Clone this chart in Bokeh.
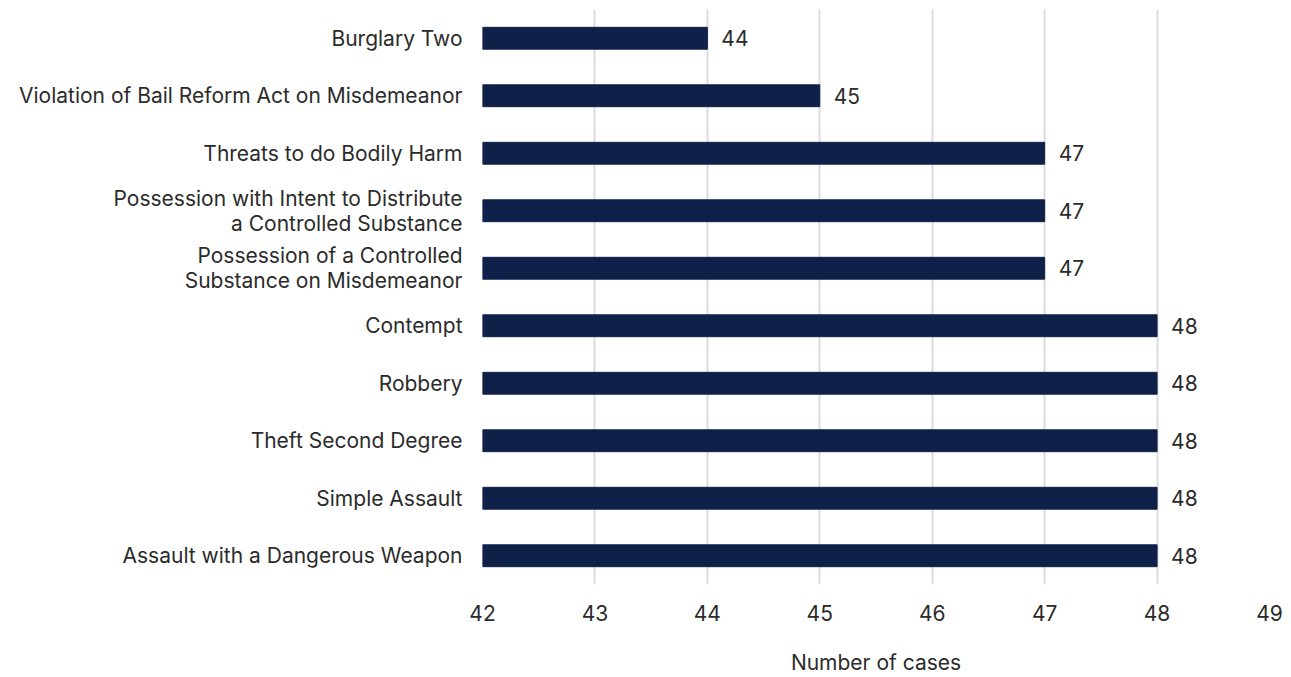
from bokeh.plotting import figure
from bokeh.models import ColumnDataSource, FactorRange, FixedTicker, LabelSet
from bokeh.core.properties import value
from bokeh.embed import file_html
from bokeh.resources import INLINE

# Offence categories (top to bottom) and number of cases
offences = [
    "Burglary Two",
    "Violation of Bail Reform Act on Misdemeanor",
    "Threats to do Bodily Harm",
    "Possession with Intent to Distribute\na Controlled Substance",
    "Possession of a Controlled\nSubstance on Misdemeanor",
    "Contempt",
    "Robbery",
    "Theft Second Degree",
    "Simple Assault",
    "Assault with a Dangerous Weapon",
]
cases = [44, 45, 47, 47, 47, 48, 48, 48, 48, 48]
x_ticks = [42, 43, 44, 45, 46, 47, 48, 49]

FONT = "Inter"
SIZE = "21px"
TEXT_COLOR = "#2b2b2b"
BAR_COLOR = "#0f2149"

source = ColumnDataSource(dict(
    offence=offences,
    cases=cases,
    label=[str(c) for c in cases],
))

p = figure(
    width=1291, height=677,
    y_range=FactorRange(*reversed(offences), range_padding=0),
    x_range=(42, 49),
    output_backend="svg", toolbar_location=None,
    min_border_left=482, min_border_right=22,
    min_border_top=9, min_border_bottom=92,
)

p.hbar(y="offence", left=42, right="cases", height=0.38,
       color=BAR_COLOR, source=source)

p.add_layout(LabelSet(
    x="cases", y="offence", text="label", source=source,
    x_offset=14, text_align="left", text_baseline="middle",
    text_font=value(FONT), text_font_size=SIZE, text_color=TEXT_COLOR,
))

p.outline_line_color = None
p.ygrid.grid_line_color = None
p.xgrid.grid_line_color = "#dcdcdc"
p.xgrid.grid_line_width = 2
p.xaxis.ticker = FixedTicker(ticks=x_ticks)

for ax in (p.xaxis, p.yaxis):
    ax.axis_line_color = None
    ax.major_tick_line_color = None
    ax.minor_tick_line_color = None
    ax.major_label_text_font = FONT
    ax.major_label_text_font_size = SIZE
    ax.major_label_text_color = TEXT_COLOR

p.yaxis.major_label_text_line_height = 1.0
p.yaxis.major_label_standoff = 14
p.xaxis.major_label_standoff = 14
p.xaxis.axis_label = "Number of cases"
p.xaxis.axis_label_text_font = FONT
p.xaxis.axis_label_text_font_size = SIZE
p.xaxis.axis_label_text_font_style = "normal"
p.xaxis.axis_label_text_color = TEXT_COLOR
p.xaxis.axis_label_standoff = 26

open("out.html", "w").write(file_html(p, INLINE))
